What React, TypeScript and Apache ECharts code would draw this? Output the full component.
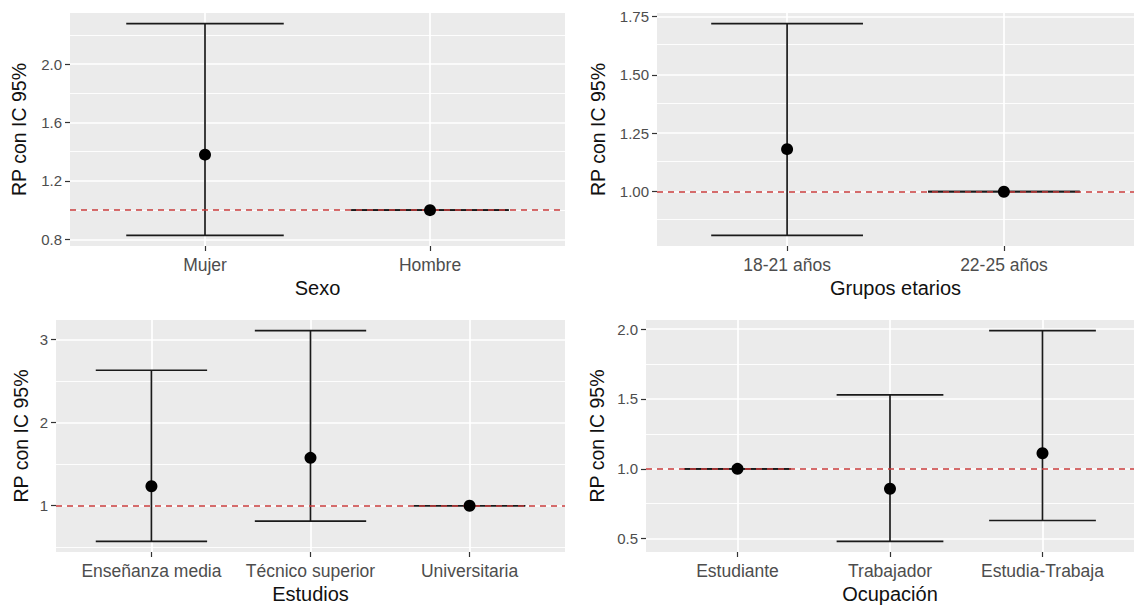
import React, { useEffect, useRef } from "react";
import * as echarts from "echarts";

// ---- Data ----
const sexoCats = ["Mujer", "Hombre"];
const sexoRP = [1.38, 1.0];
const sexoLo = [0.827, 1.0];
const sexoHi = [2.277, 1.0];
const sexoTicks = [0.8, 1.2, 1.6, 2.0];
const sexoTickLabels = ["0.8", "1.2", "1.6", "2.0"];
const sexoMinor = [1.0, 1.4, 1.8, 2.2];

const edadCats = ["18-21 años", "22-25 años"];
const edadRP = [1.182, 1.0];
const edadLo = [0.813, 1.0];
const edadHi = [1.719, 1.0];
const edadTicks = [1.0, 1.25, 1.5, 1.75];
const edadTickLabels = ["1.00", "1.25", "1.50", "1.75"];
const edadMinor = [0.875, 1.125, 1.375, 1.625];

const estudiosCats = ["Enseñanza media", "Técnico superior", "Universitaria"];
const estudiosRP = [1.234, 1.577, 1.0];
const estudiosLo = [0.57, 0.816, 1.0];
const estudiosHi = [2.632, 3.11, 1.0];
const estudiosTicks = [1, 2, 3];
const estudiosTickLabels = ["1", "2", "3"];
const estudiosMinor = [0.5, 1.5, 2.5];

const ocupCats = ["Estudiante", "Trabajador", "Estudia-Trabaja"];
const ocupRP = [1.0, 0.857, 1.112];
const ocupLo = [1.0, 0.48, 0.63];
const ocupHi = [1.0, 1.53, 1.99];
const ocupTicks = [0.5, 1.0, 1.5, 2.0];
const ocupTickLabels = ["0.5", "1.0", "1.5", "2.0"];
const ocupMinor = [0.75, 1.25, 1.75];

const yTitle = "RP con IC 95%";
const refLine = 1;

// ---- Layout ----
const FONT = "Liberation Sans";
const panels = [
  { name: "Sexo", cats: sexoCats, rp: sexoRP, lo: sexoLo, hi: sexoHi, ticks: sexoTicks, labels: sexoTickLabels, minor: sexoMinor,
    grid: { left: 70, top: 13, width: 495, height: 233 }, yGap: 41 },
  { name: "Grupos etarios", cats: edadCats, rp: edadRP, lo: edadLo, hi: edadHi, ticks: edadTicks, labels: edadTickLabels, minor: edadMinor,
    grid: { left: 657, top: 13, width: 483, height: 233 }, yGap: 49 },
  { name: "Estudios", cats: estudiosCats, rp: estudiosRP, lo: estudiosLo, hi: estudiosHi, ticks: estudiosTicks, labels: estudiosTickLabels, minor: estudiosMinor,
    grid: { left: 56, top: 320, width: 509, height: 233 }, yGap: 25 },
  { name: "Ocupación", cats: ocupCats, rp: ocupRP, lo: ocupLo, hi: ocupHi, ticks: ocupTicks, labels: ocupTickLabels, minor: ocupMinor,
    grid: { left: 646, top: 320, width: 495, height: 233 }, yGap: 39 },
];

function buildOption() {
  const grid: any[] = [];
  const xAxis: any[] = [];
  const yAxis: any[] = [];
  const series: any[] = [];
  panels.forEach((p, i) => {
    const dataMin = Math.min(...p.lo);
    const dataMax = Math.max(...p.hi);
    const pad = (dataMax - dataMin) * 0.05;
    const n = p.cats.length;
    const idx = p.cats.map((_, k) => k);
    grid.push({ ...p.grid, show: true, backgroundColor: "#EBEBEB", borderWidth: 0 });
    xAxis.push({
      gridIndex: i, type: "value", min: -0.6, max: n - 1 + 0.6,
      axisLine: { show: false, onZero: false },
      axisTick: { show: true, length: 5, customValues: idx, lineStyle: { color: "#333333", width: 1.2 } },
      axisLabel: {
        customValues: idx, margin: 10, color: "#4D4D4D", fontSize: 17.5, fontFamily: FONT,
        formatter: (v: number) => p.cats[Math.round(v)] ?? "",
      },
      splitLine: { show: false },
      name: p.name, nameLocation: "middle", nameGap: 32,
      nameTextStyle: { color: "#111", fontSize: 20, fontFamily: FONT },
    });
    yAxis.push({
      gridIndex: i, type: "value", min: dataMin - pad, max: dataMax + pad,
      axisLine: { show: false, onZero: false },
      axisTick: { show: true, length: 5, customValues: p.ticks, lineStyle: { color: "#333333", width: 1.2 } },
      axisLabel: {
        customValues: p.ticks, margin: 8, color: "#4D4D4D", fontSize: 15, fontFamily: FONT,
        formatter: (v: number) => {
          const k = p.ticks.findIndex((t) => Math.abs(t - v) < 1e-9);
          return k >= 0 ? p.labels[k] : "";
        },
      },
      splitLine: { show: false },
      name: yTitle, nameLocation: "middle", nameRotate: 90, nameGap: p.yGap,
      nameTextStyle: { color: "#111", fontSize: 19.5, fontFamily: FONT },
    });
    // grid lines
    const gl: any[] = [];
    p.minor.forEach((v) => gl.push({ yAxis: v, lineStyle: { color: "#FFFFFF", width: 0.9, type: "solid" } }));
    p.ticks.forEach((v) => gl.push({ yAxis: v, lineStyle: { color: "#FFFFFF", width: 1.7, type: "solid" } }));
    idx.forEach((v) => gl.push({ xAxis: v, lineStyle: { color: "#FFFFFF", width: 1.7, type: "solid" } }));
    series.push({
      type: "line", xAxisIndex: i, yAxisIndex: i, data: [], z: 1, silent: true,
      markLine: { z: 1, silent: true, symbol: "none", label: { show: false }, animation: false, data: gl },
    });
    // error bars
    series.push({
      type: "custom", xAxisIndex: i, yAxisIndex: i, z: 2, silent: true,
      data: idx.map((k) => [k, p.lo[k], p.hi[k]]),
      encode: { x: 0, y: [1, 2] },
      renderItem: (_params: any, api: any) => {
        const x = api.value(0);
        const lo = api.value(1);
        const hi = api.value(2);
        const top = api.coord([x, hi]);
        const bot = api.coord([x, lo]);
        const tl = api.coord([x - 0.35, hi]);
        const tr = api.coord([x + 0.35, hi]);
        const bl = api.coord([x - 0.35, lo]);
        const br = api.coord([x + 0.35, lo]);
        const style = { stroke: "#1A1A1A", lineWidth: 1.7 };
        return {
          type: "group",
          children: [
            { type: "line", shape: { x1: top[0], y1: top[1], x2: bot[0], y2: bot[1] }, style },
            { type: "line", shape: { x1: tl[0], y1: tl[1], x2: tr[0], y2: tr[1] }, style },
            { type: "line", shape: { x1: bl[0], y1: bl[1], x2: br[0], y2: br[1] }, style },
          ],
        };
      },
    });
    // reference line
    series.push({
      type: "line", xAxisIndex: i, yAxisIndex: i, data: [], z: 3, silent: true,
      markLine: {
        z: 3, silent: true, symbol: "none", label: { show: false }, animation: false,
        data: [{ yAxis: refLine, lineStyle: { color: "#C93C3C", width: 1.6, type: [6, 5] } }],
      },
    });
    // points
    series.push({
      type: "scatter", xAxisIndex: i, yAxisIndex: i, z: 4, silent: true,
      symbol: "circle", symbolSize: 12, itemStyle: { color: "#000000", opacity: 1 },
      data: idx.map((k) => [k, p.rp[k]]),
    });
  });
  return {
    animation: false,
    backgroundColor: "#FFFFFF",
    textStyle: { fontFamily: FONT },
    grid, xAxis, yAxis, series,
  };
}

export default function App() {
  const ref = useRef<HTMLDivElement>(null);
  useEffect(() => {
    document.body.style.margin = "0";
    if (!ref.current) return;
    const chart = echarts.init(ref.current, null, { renderer: "svg" });
    chart.setOption(buildOption() as any);
    return () => chart.dispose();
  }, []);
  return <div ref={ref} style={{ width: 1134, height: 605 }} />;
}
